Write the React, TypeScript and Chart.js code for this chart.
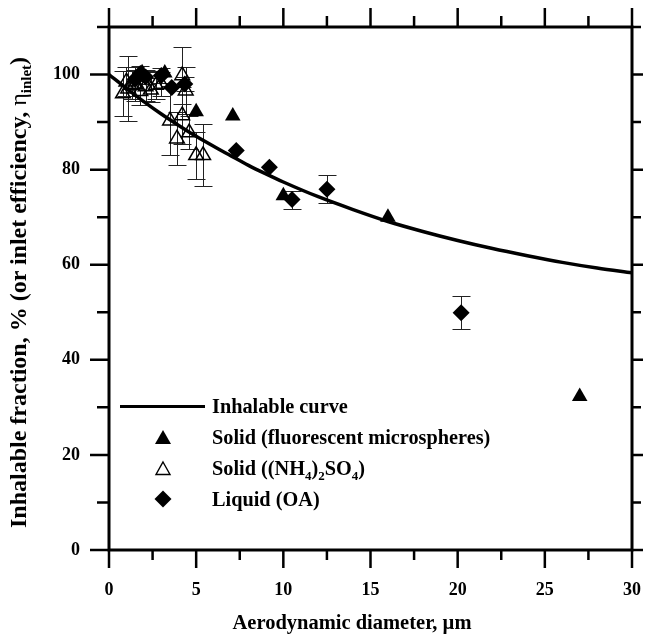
import React, { useEffect, useRef } from 'react';
import { Chart, registerables } from 'chart.js';
Chart.register(...registerables);

// Inhalable curve
const curveX = [0, 1, 2, 3, 4, 5, 6, 7, 8, 9, 10, 12, 14, 16, 18, 20, 22, 24, 26, 28, 30];
const curveY = [100, 97.1, 94.3, 91.7, 89.3, 87.0, 84.9, 82.9, 80.9, 79.1, 77.4, 74.3, 71.6, 69.1, 67.0, 65.1, 63.4, 61.9, 60.5, 59.3, 58.3];

// Solid (fluorescent microspheres)
const fluorX = [1.9, 3.2, 5.0, 7.1, 10.0, 16.0, 27.0];
const fluorY = [100.4, 100.3, 92.2, 91.3, 74.5, 70.0, 32.3];
const fluorErr = [0, 0, 0, 0, 0, 0, 0];

// Solid ((NH4)2SO4)
const amsX = [0.8, 1.0, 1.1, 1.3, 1.5, 1.8, 2.1, 2.4, 2.7, 3.0, 3.5, 3.9, 4.2, 4.2, 4.4, 4.6, 5.0, 5.4];
const amsY = [96.0, 98.5, 97.0, 97.8, 98.0, 96.5, 97.5, 96.8, 97.8, 98.0, 90.3, 86.5, 99.8, 91.4, 96.6, 87.8, 83.0, 83.0];
const amsErr = [4.8, 3.0, 6.8, 3.0, 3.5, 3.0, 3.0, 2.5, 3.0, 2.5, 7.3, 5.6, 6.0, 6.0, 5.0, 3.5, 5.0, 6.5];

// Liquid (OA)
const oaX = [1.5, 1.8, 2.1, 3.0, 3.6, 4.35, 7.3, 9.2, 10.5, 12.5, 20.2];
const oaY = [99.0, 100.2, 99.5, 99.8, 97.3, 98.0, 84.0, 80.5, 73.7, 75.9, 49.9];
const oaErr = [2.0, 1.5, 1.5, 1.5, 0, 1.5, 0, 0, 1.9, 3.0, 3.5];

const FONT = "'Liberation Serif', 'Times New Roman', serif";

const pts = (xs: number[], ys: number[]) => xs.map((x, i) => ({ x, y: ys[i] }));

const errorBars = {
  id: 'errorBars',
  beforeDatasetsDraw(chart: any) {
    const { ctx, scales } = chart;
    const x = scales.x, y = scales.y;
    ctx.save();
    ctx.strokeStyle = '#222';
    ctx.lineWidth = 1;
    chart.data.datasets.forEach((ds: any) => {
      if (!ds.errors) return;
      ds.data.forEach((p: any, i: number) => {
        const e = ds.errors[i];
        if (!e) return;
        const px = Math.round(x.getPixelForValue(p.x)) + 0.5;
        const y1 = Math.round(y.getPixelForValue(p.y + e)) + 0.5;
        const y2 = Math.round(y.getPixelForValue(p.y - e)) + 0.5;
        ctx.beginPath();
        ctx.moveTo(px, y1); ctx.lineTo(px, y2);
        ctx.moveTo(px - 9, y1); ctx.lineTo(px + 9, y1);
        ctx.moveTo(px - 9, y2); ctx.lineTo(px + 9, y2);
        ctx.stroke();
      });
    });
    ctx.restore();
  },
};

const frame = {
  id: 'frame',
  afterDraw(chart: any) {
    const { ctx, chartArea: a, scales } = chart;
    const x = scales.x, y = scales.y;
    ctx.save();
    ctx.strokeStyle = '#000';
    ctx.lineWidth = 2.5;
    ctx.beginPath();
    x.ticks.forEach((t: any) => {
      const px = x.getPixelForValue(t.value);
      const major = t.value % 5 === 0;
      ctx.moveTo(px, a.bottom); ctx.lineTo(px, a.bottom + (major ? 18 : 10));
      ctx.moveTo(px, a.top); ctx.lineTo(px, a.top - (major ? 19 : 11));
    });
    y.ticks.forEach((t: any) => {
      const py = y.getPixelForValue(t.value);
      const major = t.value % 20 === 0;
      ctx.moveTo(a.left, py); ctx.lineTo(a.left - (major ? 19 : 12), py);
      ctx.moveTo(a.right, py); ctx.lineTo(a.right + (major ? 11 : 9), py);
    });
    ctx.stroke();
    ctx.lineWidth = 3;
    ctx.strokeRect(a.left, a.top, a.right - a.left, a.bottom - a.top);
    ctx.restore();
  },
};

function TriSym({ filled }: { filled: boolean }) {
  return (
    <svg width="18" height="16" viewBox="0 0 18 16" style={{ display: 'block' }}>
      <polygon points={filled ? '9,1 17,15 1,15' : '9,2 16,14.5 2,14.5'} fill={filled ? '#000' : 'none'} stroke="#000" strokeWidth={filled ? 0 : 1.4} />
    </svg>
  );
}
function DiaSym() {
  return (
    <svg width="18" height="18" viewBox="0 0 18 18" style={{ display: 'block' }}>
      <polygon points="9,0.5 17.5,9 9,17.5 0.5,9" fill="#000" />
    </svg>
  );
}

function Row({ cy, sym, children }: { cy: number; sym: React.ReactNode; children: React.ReactNode }) {
  return (
    <>
      {sym && (
        <div style={{ position: 'absolute', left: 154, top: cy - 9, width: 18, height: 18, display: 'flex', alignItems: 'center', justifyContent: 'center' }}>
          {sym}
        </div>
      )}
      <div style={{ position: 'absolute', left: 212, top: cy - 13, height: 26, lineHeight: '26px', fontFamily: FONT, fontWeight: 'bold', fontSize: 20.3, color: '#000', whiteSpace: 'nowrap' }}>
        {children}
      </div>
    </>
  );
}

const subStyle: React.CSSProperties = { fontSize: 13, position: 'relative', top: 5, lineHeight: 0 };
const ySubStyle: React.CSSProperties = { fontSize: 15, position: 'relative', top: 5, lineHeight: 0 };

export default function App() {
  const ref = useRef<HTMLCanvasElement>(null);
  useEffect(() => {
    const chart = new Chart(ref.current!, {
      type: 'scatter',
      data: {
        datasets: [
          {
            type: 'line',
            label: 'Inhalable curve',
            data: pts(curveX, curveY),
            borderColor: '#000',
            borderWidth: 3.5,
            pointRadius: 0,
            cubicInterpolationMode: 'monotone',
            fill: false,
          } as any,
          {
            label: 'Solid (fluorescent microspheres)',
            data: pts(fluorX, fluorY),
            errors: fluorErr,
            pointStyle: 'triangle',
            pointRadius: 9,
            backgroundColor: '#000',
            borderColor: '#000',
            borderWidth: 0,
          } as any,
          {
            label: 'Solid ((NH4)2SO4)',
            data: pts(amsX, amsY),
            errors: amsErr,
            pointStyle: 'triangle',
            pointRadius: 8.5,
            backgroundColor: 'rgba(0,0,0,0)',
            borderColor: '#000',
            borderWidth: 1.5,
          } as any,
          {
            label: 'Liquid (OA)',
            data: pts(oaX, oaY),
            errors: oaErr,
            pointStyle: 'rectRot',
            pointRadius: 8.5,
            backgroundColor: '#000',
            borderColor: '#000',
            borderWidth: 0,
          } as any,
        ],
      },
      options: {
        responsive: false,
        animation: false,
        events: [],
        layout: { padding: { top: 27, right: 13, left: 0, bottom: 0 } },
        plugins: { legend: { display: false }, tooltip: { enabled: false } },
        scales: {
          x: {
            type: 'linear',
            position: 'bottom',
            min: 0,
            max: 30,
            afterFit: (s: any) => { s.height = 87; s.paddingLeft = 0; s.paddingRight = 0; },
            grid: { display: false, drawTicks: false },
            border: { display: false },
            ticks: {
              stepSize: 2.5,
              autoSkip: false,
              maxRotation: 0,
              padding: 30,
              color: '#000',
              font: { family: FONT, size: 18, weight: 'bold' },
              callback: (v: any) => (Number(v) % 5 === 0 ? String(v) : ''),
            },
          },
          y: {
            type: 'linear',
            position: 'left',
            min: 0,
            max: 110,
            afterFit: (s: any) => { s.width = 109; s.paddingTop = 0; s.paddingBottom = 0; },
            grid: { display: false, drawTicks: false },
            border: { display: false },
            ticks: {
              stepSize: 10,
              autoSkip: false,
              padding: 29,
              color: '#000',
              font: { family: FONT, size: 18, weight: 'bold' },
              callback: (v: any) => (Number(v) % 20 === 0 ? String(v) : ''),
            },
          },
        },
      } as any,
      plugins: [errorBars, frame],
    });
    return () => chart.destroy();
  }, []);

  return (
    <div style={{ position: 'absolute', left: 0, top: 0, width: 645, height: 637, background: '#fff', overflow: 'hidden' }}>
      <canvas ref={ref} width={645} height={637} style={{ display: 'block', width: 645, height: 637 }} />
      <div
        style={{
          position: 'absolute',
          left: 5,
          top: 528,
          transformOrigin: '0 0',
          transform: 'rotate(-90deg)',
          fontFamily: FONT,
          fontWeight: 'bold',
          fontSize: 24,
          whiteSpace: 'nowrap',
          color: '#000',
          lineHeight: '27px',
        }}
      >
        Inhalable fraction, % (or inlet efficiency, <span style={{ fontWeight: 'normal' }}>η</span>
        <span style={ySubStyle}>inlet</span>)
      </div>
      <div
        style={{
          position: 'absolute',
          left: 352,
          top: 609,
          transform: 'translateX(-50%)',
          fontFamily: FONT,
          fontWeight: 'bold',
          fontSize: 20.5,
          whiteSpace: 'nowrap',
          color: '#000',
          lineHeight: '26px',
        }}
      >
        Aerodynamic diameter, µm
      </div>
      <div style={{ position: 'absolute', left: 120, top: 405, width: 85, height: 3, background: '#000' }} />
      <Row cy={406} sym={null}>Inhalable curve</Row>
      <Row cy={437} sym={<TriSym filled={true} />}>Solid (fluorescent microspheres)</Row>
      <Row cy={468} sym={<TriSym filled={false} />}>
        Solid ((NH<span style={subStyle}>4</span>)<span style={subStyle}>2</span>SO<span style={subStyle}>4</span>)
      </Row>
      <Row cy={499} sym={<DiaSym />}>Liquid (OA)</Row>
    </div>
  );
}
